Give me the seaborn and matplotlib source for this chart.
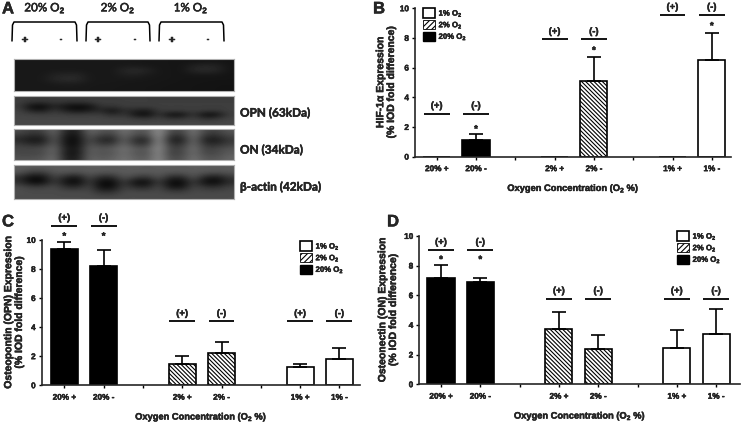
import matplotlib
matplotlib.use("Agg")
import matplotlib.pyplot as plt
import matplotlib.patheffects as pe
from matplotlib.patches import Patch
from matplotlib.text import Text
import seaborn as sns
import pandas as pd

W, H = 741, 425

# bar data, same order as the x labels
labels = ['20% +', '20% -', '2% +', '2% -', '1% +', '1% -']
oxygen = ['20% O$_2$', '20% O$_2$', '2% O$_2$', '2% O$_2$', '1% O$_2$', '1% O$_2$']
tick_order = ['20% +', '20% -', ' ', '2% +', '2% -', '  ', '1% +', '1% -']

hif_values = [0, 1.15, 0, 5.1, 0, 6.5]
hif_tops = [0, 1.5, 0, 6.75, 0, 8.35]
hif_marks = [2.9, 2.9, 7.9, 7.9, 9.55, 9.55]
hif_stars = [None, 1.85, None, 7.15, None, 8.8]

opn_values = [9.35, 8.2, 1.45, 2.2, 1.25, 1.8]
opn_tops = [9.85, 9.3, 2.05, 3.0, 1.5, 2.6]
opn_marks = [10.98, 10.98, 4.4, 4.4, 4.4, 4.4]
opn_stars = [10.25, 10.25, None, None, None, None]

on_values = [7.2, 6.9, 3.7, 2.35, 2.45, 3.4]
on_tops = [8.05, 7.2, 4.9, 3.35, 3.65, 5.05]
on_marks = [9.05, 9.05, 5.77, 5.77, 5.77, 5.77]
on_stars = [8.4, 8.4, None, None, None, None]

signs = ['(+)', '(-)', '(+)', '(-)', '(+)', '(-)']

# western blot grey levels (rows top to bottom)
blot_hif = [
    [24, 24, 24, 24, 24, 24, 24, 24, 24, 24, 23, 22, 22, 22, 21, 20, 21, 21, 20],
    [24, 24, 24, 24, 24, 24, 24, 24, 24, 26, 26, 24, 22, 22, 21, 33, 38, 35, 21],
    [24, 24, 24, 25, 25, 25, 24, 24, 24, 38, 44, 36, 23, 22, 21, 38, 44, 38, 21],
    [24, 24, 25, 34, 38, 38, 25, 24, 24, 31, 32, 26, 23, 22, 21, 22, 22, 22, 20],
    [24, 24, 26, 38, 44, 42, 26, 24, 24, 24, 24, 23, 22, 22, 21, 20, 20, 20, 20],
    [24, 24, 24, 26, 28, 27, 24, 24, 24, 23, 22, 22, 22, 21, 20, 20, 20, 19, 19],
    [24, 24, 24, 24, 24, 24, 24, 23, 23, 22, 22, 22, 21, 20, 20, 20, 19, 19, 18],
]
blot_opn = [
    [62, 60, 60, 60, 62, 62, 62, 62, 62, 62, 62, 62, 60, 60, 60, 60, 60, 60, 60],
    [62, 48, 45, 55, 50, 46, 52, 62, 60, 62, 62, 62, 62, 62, 62, 62, 62, 62, 62],
    [58, 12, 8, 38, 16, 8, 14, 52, 50, 60, 60, 60, 62, 62, 62, 62, 62, 62, 62],
    [65, 32, 25, 55, 30, 18, 28, 40, 15, 45, 35, 25, 58, 60, 58, 62, 58, 55, 64],
    [68, 66, 62, 66, 62, 58, 62, 62, 40, 58, 20, 8, 55, 12, 15, 55, 10, 15, 60],
    [70, 70, 70, 70, 70, 70, 70, 70, 68, 68, 60, 55, 66, 52, 55, 66, 48, 55, 68],
    [70, 70, 70, 70, 70, 70, 70, 70, 70, 70, 70, 70, 70, 70, 70, 70, 70, 70, 70],
]
blot_on = [
    [75, 60, 65, 105, 35, 30, 105, 85, 80, 115, 90, 85, 150, 75, 70, 120, 70, 65, 85],
    [55, 40, 42, 95, 22, 18, 90, 60, 55, 105, 70, 65, 150, 50, 48, 115, 50, 45, 70],
    [40, 22, 25, 90, 15, 12, 80, 38, 32, 100, 40, 35, 145, 32, 28, 110, 30, 25, 55],
    [60, 45, 48, 95, 18, 15, 85, 60, 62, 105, 60, 55, 145, 52, 50, 110, 50, 45, 65],
    [70, 72, 75, 105, 28, 22, 95, 85, 90, 115, 90, 85, 145, 65, 68, 115, 65, 70, 85],
    [70, 68, 72, 105, 22, 20, 95, 80, 85, 110, 85, 80, 140, 62, 68, 110, 70, 72, 90],
    [80, 80, 85, 110, 30, 28, 100, 90, 95, 115, 95, 90, 140, 75, 78, 115, 85, 85, 100],
]
blot_actin = [
    [92, 90, 90, 92, 92, 90, 92, 92, 90, 92, 92, 90, 92, 92, 90, 92, 92, 90, 92],
    [85, 60, 60, 85, 85, 80, 90, 85, 85, 90, 90, 88, 90, 85, 85, 90, 85, 80, 85],
    [45, 12, 14, 70, 35, 22, 75, 40, 40, 85, 60, 50, 85, 40, 38, 85, 35, 22, 55],
    [45, 8, 10, 60, 15, 5, 60, 10, 8, 60, 12, 8, 60, 10, 6, 60, 12, 6, 40],
    [75, 60, 62, 75, 45, 40, 70, 12, 12, 65, 40, 35, 75, 20, 18, 70, 50, 45, 65],
    [78, 75, 75, 75, 72, 72, 72, 45, 45, 72, 72, 70, 72, 62, 60, 72, 70, 70, 72],
    [75, 75, 75, 75, 75, 75, 75, 72, 72, 75, 75, 75, 75, 75, 75, 75, 75, 75, 75],
]

sns.set_theme(style="ticks")
plt.rcParams['font.family'] = ['Liberation Sans', 'DejaVu Sans']
plt.rcParams['font.weight'] = 'bold'
plt.rcParams['axes.labelweight'] = 'bold'
plt.rcParams['mathtext.fontset'] = 'custom'
plt.rcParams['mathtext.rm'] = 'Liberation Sans:bold'
plt.rcParams['mathtext.default'] = 'rm'
plt.rcParams['hatch.linewidth'] = 0.8
plt.rcParams['text.hinting'] = 'no_hinting'

fig = plt.figure(figsize=(W / 100, H / 100), dpi=100, facecolor='white')


def axes_px(left, top, right, bottom):
    return fig.add_axes([left / W, 1 - bottom / H, (right - left) / W, (bottom - top) / H])


def draw_panel(box, first_tick, values, tops, marks, stars, ylabel, ylabel_x, legend_xy):
    left, top, right, bottom = box
    ax = axes_px(left, top, right, bottom)
    df = pd.DataFrame({'label': labels, 'value': values, 'oxygen': oxygen})
    sns.barplot(data=df, x='label', y='value', hue='oxygen', order=tick_order,
                hue_order=['20% O$_2$', '2% O$_2$', '1% O$_2$'],
                palette=['black', 'white', 'white'], dodge=False, width=0.69,
                errorbar=None, edgecolor='black', linewidth=1.2, legend=False, ax=ax)
    for bar in ax.containers[1]:
        bar.set_hatch('\\' * 8)

    xs = [tick_order.index(l) for l in labels]
    for x, v, t, m, s, sign in zip(xs, values, tops, marks, stars, signs):
        if t > v:
            ax.errorbar(x, v, yerr=[[0], [t - v]], fmt='none', ecolor='black',
                        elinewidth=1.2, capsize=5, capthick=1.2)
        ax.plot([x - 0.33, x + 0.33], [m, m], color='black', lw=1.3, clip_on=False,
                solid_capstyle='butt')
        ax.annotate(sign, (x, m), xytext=(0, 2.5), textcoords='offset points', ha='center',
                    va='bottom', fontsize=6.8, annotation_clip=False)
        if s is not None:
            ax.text(x, s, '*', ha='center', va='center', fontsize=7, clip_on=False)

    # one category step is 39.3 px in all three panels
    ax.set_xlim((left - first_tick) / 39.3, (right - first_tick) / 39.3)
    ax.set_ylim(0, 10)
    ax.set_yticks(range(0, 11, 2))
    sns.despine(ax=ax)
    for side in ['left', 'bottom']:
        ax.spines[side].set_linewidth(1.2)
    ax.tick_params(axis='both', labelsize=5.9, length=2.2, width=1, pad=2.2, color='black')
    ax.tick_params(axis='x', pad=4)
    ax.set_ylabel(ylabel, fontsize=7.5, linespacing=1.2, va='center')
    ax.yaxis.set_label_coords((ylabel_x - left) / (right - left), 0.5)
    ax.set_xlabel('Oxygen Concentration (O$_2$ %)', fontsize=6.7, va='center')
    ax.xaxis.set_label_coords(0.5, -32 / (bottom - top))

    handles = [Patch(facecolor='white', edgecolor='black', lw=1.2),
               Patch(facecolor='white', edgecolor='black', hatch='/' * 6, lw=0.6),
               Patch(facecolor='black', edgecolor='black')]
    ax.legend(handles, ['1% O$_2$', '2% O$_2$', '20% O$_2$'], frameon=False, fontsize=5.6,
              handlelength=1.5, handleheight=1.5, handletextpad=0.5, labelspacing=0.1,
              borderpad=0, borderaxespad=0, loc='upper left',
              bbox_to_anchor=((legend_xy[0] - left) / (right - left),
                              (bottom - legend_xy[1]) / (bottom - top)))
    return ax


draw_panel((415, 8.3, 731, 156.7), 436.7, hif_values, hif_tops, hif_marks, hif_stars,
           'HIF-1α Expression\n(% IOD fold difference)', 386, (423, 8))
draw_panel((41.7, 240, 360, 385.3), 64.3, opn_values, opn_tops, opn_marks, opn_stars,
           'Osteopontin (OPN) Expression\n(% IOD fold difference)', 14, (300, 241))
draw_panel((419.3, 236, 740, 384.3), 441, on_values, on_tops, on_marks, on_stars,
           'Osteonectin (ON) Expression\n(% IOD fold difference)', 388, (677, 231))

# panel A blots
blot_boxes = [(14, 59, 234, 91), (14, 96, 234, 125), (14, 129, 234, 160), (14, 165, 234, 199)]
for grid, b in zip([blot_hif, blot_opn, blot_on, blot_actin], blot_boxes):
    bax = axes_px(*b)
    bax.imshow(grid, cmap='gray', vmin=0, vmax=255, interpolation='bicubic', aspect='auto')
    bax.set_xticks([])
    bax.set_yticks([])
    for spine in bax.spines.values():
        spine.set_color('#b0b0b0')
        spine.set_linewidth(0.8)

# overlay in pixel coordinates for panel letters and panel A text
over = fig.add_axes([0, 0, 1, 1], facecolor='none')
over.set_xlim(0, W)
over.set_ylim(H, 0)
over.axis('off')

for letter, x, y in [('A', 2, 9), ('B', 373, 9), ('C', 2, 222), ('D', 387, 222)]:
    over.text(x, y, letter, fontsize=12, fontweight='bold', va='center', ha='left')

lato = ['Lato', 'DejaVu Sans']
for name, x in [('20% O$_2$', 45), ('2% O$_2$', 118), ('1% O$_2$', 191)]:
    over.text(x, 8, name, family=lato, fontsize=8.4, fontweight='medium', ha='center', va='center')
for x0, x1 in [(12, 77), (86, 150), (159, 224)]:
    over.plot([x0, x0 + 0.5, x0 + 2, x1 - 2, x1 - 0.5, x1], [41, 25, 22, 22, 25, 41], color='black', lw=1.1)
for x, s in [(25, '+'), (61, '-'), (98, '+'), (135, '-'), (172, '+'), (208, '-')]:
    over.text(x, 40, s, family=lato, fontsize=8, fontweight='bold', ha='center', va='center')
for y, s in [(113, 'OPN (63kDa)'), (150, 'ON (34kDa)'), (187, 'β-actin (42kDa)')]:
    over.text(240, y, s, family=lato, fontsize=8.5, fontweight='bold', ha='left', va='center')

# the scan has heavy smeared type, thicken everything a little
for t in fig.findobj(Text):
    t.set_path_effects([pe.withStroke(linewidth=0.3, foreground='black')])

fig.savefig('out.png', dpi=100)
